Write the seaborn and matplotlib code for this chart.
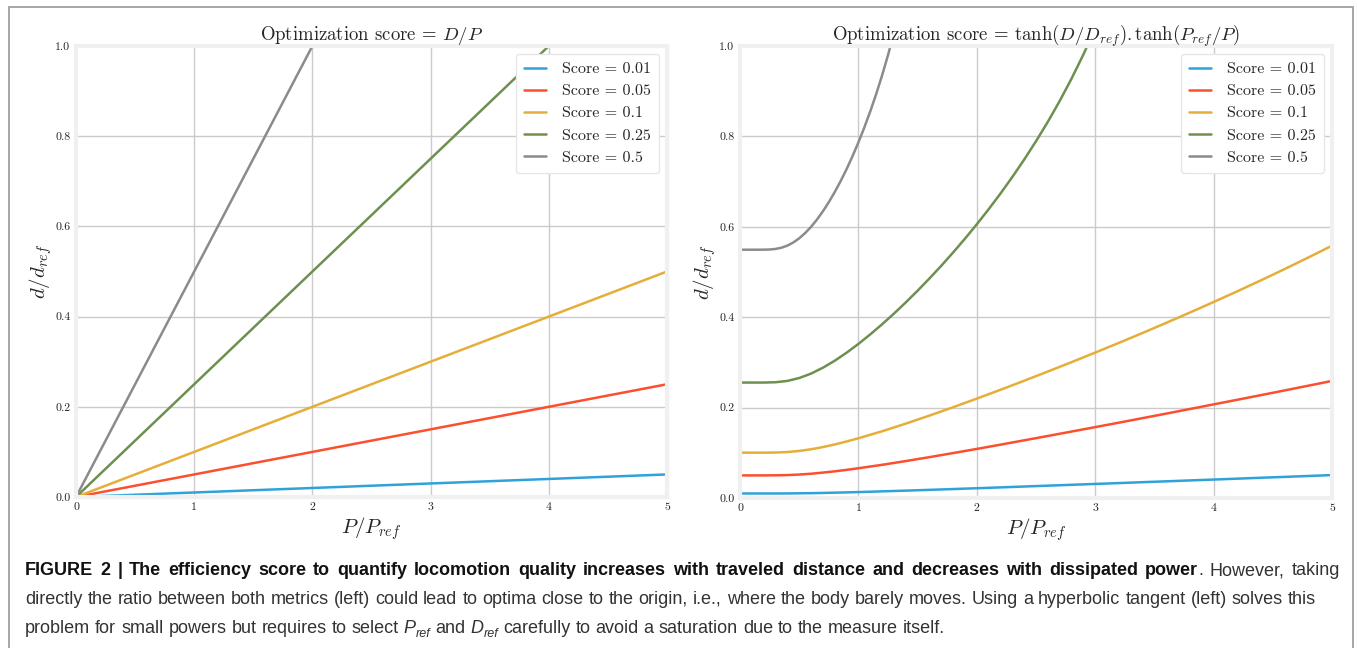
import numpy as np
import pandas as pd
import matplotlib
matplotlib.use("Agg")
import matplotlib.pyplot as plt
from matplotlib.lines import Line2D
import seaborn as sns

# ---- data -----------------------------------------------------------------
SCORE_LABELS = ["Score = 0.01", "Score = 0.05", "Score = 0.1", "Score = 0.25", "Score = 0.5"]
COLORS = ["#30a2da", "#fc4f30", "#e5ae38", "#6d904f", "#8b8b8b"]

# left panel: straight lines d = score * P
P_LINE = [0.0, 5.0]
D_LINE_001 = [0.0, 0.05]
D_LINE_005 = [0.0, 0.25]
D_LINE_010 = [0.0, 0.50]
D_LINE_025 = [0.0, 1.25]
D_LINE_050 = [0.0, 2.50]

# right panel: curves for the tanh-based score
P_GRID = [0.0, 0.1, 0.2, 0.3, 0.4, 0.5, 0.6, 0.7, 0.8, 0.9, 1.0,
          1.2, 1.4, 1.6, 1.8, 2.0, 2.2, 2.4, 2.6, 2.8, 3.0,
          3.2, 3.4, 3.6, 3.8, 4.0, 4.2, 4.4, 4.6, 4.8, 5.0]
D_TANH_001 = [0.0100, 0.0100, 0.0100, 0.0100, 0.0101, 0.0104, 0.0107, 0.0112,
              0.0118, 0.0124, 0.0131,
              0.0147, 0.0163, 0.0180, 0.0198, 0.0216, 0.0235, 0.0254, 0.0273,
              0.0292, 0.0311, 0.0330, 0.0350, 0.0369, 0.0389, 0.0408, 0.0428,
              0.0448, 0.0467, 0.0487, 0.0507]
D_TANH_005 = [0.0500, 0.0500, 0.0500, 0.0502, 0.0507, 0.0519, 0.0537, 0.0562,
              0.0590, 0.0622, 0.0658,
              0.0734, 0.0817, 0.0904, 0.0994, 0.1086, 0.1180, 0.1276, 0.1372,
              0.1470, 0.1568, 0.1667, 0.1767, 0.1867, 0.1969, 0.2071, 0.2173,
              0.2276, 0.2380, 0.2485, 0.2590]
D_TANH_010 = [0.1003, 0.1003, 0.1003, 0.1006, 0.1017, 0.1041, 0.1078, 0.1127,
              0.1184, 0.1250, 0.1321,
              0.1476, 0.1645, 0.1823, 0.2008, 0.2199, 0.2394, 0.2594, 0.2798,
              0.3005, 0.3217, 0.3432, 0.3651, 0.3875, 0.4103, 0.4336, 0.4573,
              0.4816, 0.5065, 0.5321, 0.5582]
P_GRID_025 = [0.0, 0.1, 0.2, 0.3, 0.4, 0.5, 0.6, 0.7, 0.8, 0.9, 1.0,
              1.1, 1.2, 1.3, 1.4, 1.5, 1.6, 1.7, 1.8, 1.9, 2.0,
              2.1, 2.2, 2.3, 2.4, 2.5, 2.6, 2.7, 2.8, 2.9, 3.0]
D_TANH_025 = [0.2554, 0.2554, 0.2554, 0.2561, 0.2590, 0.2654, 0.2752, 0.2882,
              0.3037, 0.3214, 0.3409,
              0.3619, 0.3843, 0.4079, 0.4327, 0.4586, 0.4857, 0.5138, 0.5432,
              0.5737, 0.6056,
              0.6388, 0.6736, 0.7102, 0.7486, 0.7893, 0.8323, 0.8783, 0.9277,
              0.9810, 1.0392]
P_GRID_050 = [0.0, 0.1, 0.2, 0.25, 0.3, 0.35, 0.4, 0.45, 0.5, 0.55, 0.6, 0.65,
              0.7, 0.75, 0.8, 0.85, 0.9, 0.95, 1.0, 1.05, 1.1, 1.15, 1.2, 1.25,
              1.3, 1.35]
D_TANH_050 = [0.5493, 0.5493, 0.5494, 0.5498, 0.5510, 0.5537, 0.5584, 0.5653,
              0.5745, 0.5861, 0.5998, 0.6160, 0.6342, 0.6545, 0.6768, 0.7011,
              0.7275, 0.7560, 0.7867, 0.8197, 0.8552, 0.8935, 0.9349, 0.9798,
              1.0287, 1.0826]

X_TICKS = [0, 1, 2, 3, 4, 5]
Y_TICKS = [0.0, 0.2, 0.4, 0.6, 0.8, 1.0]

LEFT_TITLE = r"Optimization score = $D/P$"
RIGHT_TITLE = r"Optimization score = $\tanh(D/D_{ref}).\tanh(P_{ref}/P)$"
X_LABEL = r"$P/P_{ref}$"
Y_LABEL = r"$d/d_{ref}$"


def long_frame(xs, ys):
    rows = []
    for label, x, y in zip(SCORE_LABELS, xs, ys):
        rows.append(pd.DataFrame({"P": x, "d": y, "series": label}))
    return pd.concat(rows, ignore_index=True)


left_df = long_frame([P_LINE] * 5,
                     [D_LINE_001, D_LINE_005, D_LINE_010, D_LINE_025, D_LINE_050])
right_df = long_frame([P_GRID, P_GRID, P_GRID, P_GRID_025, P_GRID_050],
                      [D_TANH_001, D_TANH_005, D_TANH_010, D_TANH_025, D_TANH_050])

# ---- style ----------------------------------------------------------------
sns.set_style("whitegrid", {
    "axes.edgecolor": "#f0f0f0",
    "grid.color": "#cbcbcb",
    "axes.facecolor": "white",
})
plt.rcParams["font.family"] = ["cmr10", "DejaVu Serif"]
plt.rcParams["mathtext.fontset"] = "cm"
plt.rcParams["axes.formatter.use_mathtext"] = True
plt.rcParams["axes.linewidth"] = 3.0
plt.rcParams["grid.linewidth"] = 1.0

W, H, DPI = 1357, 648, 100
fig = plt.figure(figsize=(W / DPI, H / DPI), dpi=DPI, facecolor="white")


def px_axes(x0, x1, ytop, ybot):
    return fig.add_axes([x0 / W, 1 - ybot / H, (x1 - x0) / W, (ybot - ytop) / H])


ax_l = px_axes(76, 667, 46, 497)
ax_r = px_axes(740, 1332, 46, 498)

for ax, df, title in ((ax_l, left_df, LEFT_TITLE), (ax_r, right_df, RIGHT_TITLE)):
    sns.lineplot(data=df, x="P", y="d", hue="series", hue_order=SCORE_LABELS,
                 palette=COLORS, estimator=None, sort=False, linewidth=1.8, ax=ax)
    ax.set_xlim(0, 5)
    ax.set_ylim(0, 1)
    ax.set_xticks(X_TICKS)
    ax.set_yticks(Y_TICKS)
    ax.set_xticklabels([str(t) for t in X_TICKS])
    ax.set_yticklabels([f"{t:.1f}" for t in Y_TICKS])
    ax.tick_params(axis="both", length=0, labelsize=8.5, labelcolor="#222222", pad=4)
    ax.set_xlabel(X_LABEL, fontsize=15, labelpad=2)
    ax.set_ylabel(Y_LABEL, fontsize=15, labelpad=1)
    ax.set_title(title, fontsize=13.5, pad=4)
    for sp in ax.spines.values():
        sp.set_color("#f0f0f0")
        sp.set_linewidth(3.0)
    sns.move_legend(ax, "upper right", title=None, fontsize=11.5, frameon=True,
                    framealpha=1.0, edgecolor="#e6e6e6", facecolor="white",
                    handlelength=1.4, borderpad=0.5, labelspacing=0.5,
                    handletextpad=1.0, borderaxespad=0.5, fancybox=True)

# ---- outer frame ----------------------------------------------------------
frame_kw = dict(color="#a6a6a6", linewidth=1.4, transform=fig.transFigure)
fig.add_artist(Line2D([9 / W, 9 / W], [0, 1 - 7 / H], **frame_kw))
fig.add_artist(Line2D([9 / W, 1353 / W], [1 - 7 / H, 1 - 7 / H], **frame_kw))
fig.add_artist(Line2D([1353 / W, 1353 / W], [0, 1 - 7 / H], **frame_kw))

# ---- caption --------------------------------------------------------------
CAP_FONT = ["Liberation Sans", "DejaVu Sans"]
CAP_SIZE = 13.0
CAP_LEFT = 25
renderer = fig.canvas.get_renderer()


def make_segment(text, style):
    kw = dict(fontsize=CAP_SIZE, family=CAP_FONT, color="#333333",
              va="baseline", ha="left")
    if style == "bold":
        kw.update(fontweight="bold", color="#111111")
    elif style == "ital":
        kw.update(style="italic")
    elif style == "sub":
        kw.update(style="italic", fontsize=CAP_SIZE * 0.7)
    t = fig.text(0, 0, text, **kw)
    return t, t.get_window_extent(renderer).width, (4 if style == "sub" else 0)


def space_width():
    a = fig.text(0, 0, "x x", fontsize=CAP_SIZE, family=CAP_FONT)
    b = fig.text(0, 0, "xx", fontsize=CAP_SIZE, family=CAP_FONT)
    w = a.get_window_extent(renderer).width - b.get_window_extent(renderer).width
    a.remove()
    b.remove()
    return w


def caption_line(y_px, runs, right=None):
    # split the runs into words; a word may hold several styled pieces
    words, current = [], []
    for text, style in runs:
        parts = text.split(" ")
        for i, part in enumerate(parts):
            if i > 0:
                if current:
                    words.append(current)
                current = []
            if part:
                current.append((part, style))
    if current:
        words.append(current)

    placed = []
    total = 0.0
    for word in words:
        segs = [make_segment(t, s) for t, s in word]
        width = sum(w for _, w, _ in segs)
        placed.append((segs, width))
        total += width
    gap = space_width()
    if right is not None and len(placed) > 1:
        gap = (right - CAP_LEFT - total) / (len(placed) - 1)
    x = CAP_LEFT
    for segs, width in placed:
        for t, w, dy in segs:
            t.set_position((x / W, 1 - (y_px + dy) / H))
            x += w
        x += gap


caption_line(575, [
    ("FIGURE 2 | The efficiency score to quantify locomotion quality increases with "
     "traveled distance and decreases with dissipated power", "bold"),
    (". However, taking", "reg"),
], right=1340)
caption_line(604, [
    ("directly the ratio between both metrics (left) could lead to optima close to the "
     "origin, i.e., where the body barely moves. Using a hyperbolic tangent (left) "
     "solves this", "reg"),
])
caption_line(633, [
    ("problem for small powers but requires to select ", "reg"),
    ("P", "ital"), ("ref", "sub"),
    (" and ", "reg"),
    ("D", "ital"), ("ref", "sub"),
    (" carefully to avoid a saturation due to the measure itself.", "reg"),
])

fig.savefig("out.png", dpi=DPI, facecolor="white")
